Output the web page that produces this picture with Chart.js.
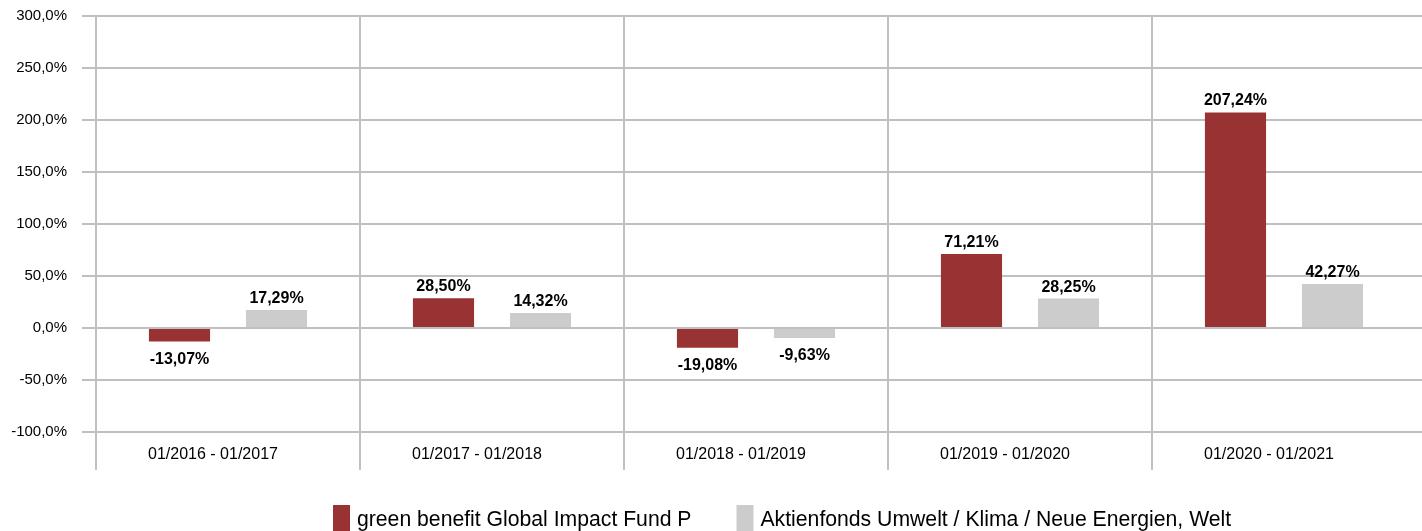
<!DOCTYPE html>
<html>
<head>
<meta charset="utf-8">
<script src="https://cdn.jsdelivr.net/npm/chart.js@4.4.1/dist/chart.umd.min.js"></script>
<style>
  html, body { margin: 0; padding: 0; background: #ffffff; }
  #wrap { width: 1422px; height: 531px; }
</style>
</head>
<body>
<div id="wrap"><canvas id="c" width="1422" height="531"></canvas></div>
<script>
const categories = ["01/2016 - 01/2017", "01/2017 - 01/2018", "01/2018 - 01/2019", "01/2019 - 01/2020", "01/2020 - 01/2021"];
const fundName = "green benefit Global Impact Fund P";
const peerName = "Aktienfonds Umwelt / Klima / Neue Energien, Welt";
const fundValues = [-13.07, 28.50, -19.08, 71.21, 207.24];
const peerValues = [17.29, 14.32, -9.63, 28.25, 42.27];
const yMin = -100, yMax = 300, yStep = 50;

const FONT = "'Liberation Sans', Arial, Helvetica, sans-serif";
const GRID = '#c0c0c0';

const fmtTick = v => v.toFixed(1).replace('.', ',') + '%';
const fmtVal = v => v.toFixed(2).replace('.', ',') + '%';

const valueLabels = {
  id: 'valueLabels',
  afterDatasetsDraw(chart) {
    const ctx = chart.ctx;
    ctx.save();
    ctx.font = "bold 16px " + FONT;
    ctx.fillStyle = '#000000';
    ctx.textAlign = 'center';
    ctx.textBaseline = 'alphabetic';
    chart.data.datasets.forEach((ds, di) => {
      const meta = chart.getDatasetMeta(di);
      meta.data.forEach((el, i) => {
        const v = ds.data[i];
        const txt = fmtVal(v);
        if (v >= 0) {
          ctx.fillText(txt, el.x, el.y - 7);
        } else {
          ctx.fillText(txt, el.x, el.y + 22);
        }
      });
    });
    ctx.restore();
  }
};

const bottomLegend = {
  id: 'bottomLegend',
  afterDraw(chart) {
    const ctx = chart.ctx;
    ctx.save();
    ctx.font = "21.2px " + FONT;
    ctx.textBaseline = 'alphabetic';
    ctx.textAlign = 'left';
    let x = 333;
    const boxTop = 505, boxW = 17, boxH = 28, textGap = 7, itemGap = 45, baseline = 526;
    chart.data.datasets.forEach((ds) => {
      ctx.fillStyle = ds.backgroundColor;
      ctx.fillRect(x, boxTop, boxW, boxH);
      ctx.fillStyle = '#000000';
      ctx.fillText(ds.label, x + boxW + textGap, baseline);
      x += boxW + textGap + ctx.measureText(ds.label).width + itemGap;
    });
    ctx.restore();
  }
};

new Chart(document.getElementById('c'), {
  type: 'bar',
  data: {
    labels: categories,
    datasets: [
      { label: fundName, data: fundValues, backgroundColor: '#993333', borderWidth: 0,
        categoryPercentage: 0.735, barPercentage: 0.63 },
      { label: peerName, data: peerValues, backgroundColor: '#cccccc', borderWidth: 0,
        categoryPercentage: 0.735, barPercentage: 0.63 }
    ]
  },
  options: {
    responsive: false,
    animation: false,
    devicePixelRatio: 1,
    layout: { padding: { top: 16, left: 0, right: 0, bottom: 0 } },
    plugins: {
      legend: { display: false },
      tooltip: { enabled: false },
      title: { display: false }
    },
    scales: {
      x: {
        type: 'category',
        offset: true,
        grid: {
          display: true,
          offset: true,
          color: ctx => (ctx.type === 'tick' ? GRID : 'rgba(0,0,0,0)'),
          lineWidth: 2,
          tickLength: 38,
          drawTicks: true,
          drawOnChartArea: true
        },
        border: { display: false },
        ticks: {
          font: { family: FONT, size: 16 },
          color: '#000000',
          padding: -25,
          labelOffset: -15,
          maxRotation: 0,
          autoSkip: false
        },
        afterFit: s => { s.height = 99; s.paddingLeft = 0; s.paddingRight = 0; }
      },
      y: {
        type: 'linear',
        position: 'left',
        min: yMin,
        max: yMax,
        ticks: {
          stepSize: yStep,
          callback: v => fmtTick(v),
          font: { family: FONT, size: 15 },
          color: '#000000',
          padding: 15
        },
        grid: { color: GRID, lineWidth: 2, tickLength: 14, drawTicks: true },
        border: { display: true, color: GRID, width: 2 },
        afterFit: s => { s.width = 96; s.paddingTop = 0; s.paddingBottom = 0; }
      },
      y2: {
        type: 'linear',
        position: 'right',
        min: yMin,
        max: yMax,
        ticks: { stepSize: yStep, display: false },
        grid: { color: GRID, lineWidth: 2, tickLength: 6, drawTicks: true, drawOnChartArea: false },
        border: { display: false },
        afterFit: s => { s.width = 6; s.paddingTop = 0; s.paddingBottom = 0; }
      }
    }
  },
  plugins: [valueLabels, bottomLegend]
});
</script>
</body>
</html>
